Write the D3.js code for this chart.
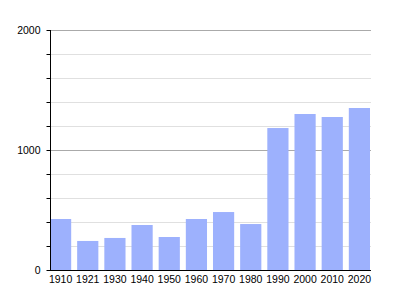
<!DOCTYPE html>
<html>
<head>
<meta charset="utf-8">
<script src="https://cdn.jsdelivr.net/npm/d3@7"></script>
<style>
    body { margin: 0; background: #fff; }
    text { font-family: "Liberation Sans", Arial, sans-serif; font-size: 10.5px; fill: #000; }
</style>
</head>
<body>
<svg id="chart"></svg>
<script>
const years = ['1910', '1921', '1930', '1940', '1950', '1960', '1970', '1980', '1990', '2000', '2010', '2020'];
const population = [425, 242, 267, 375, 275, 425, 483, 383, 1183, 1300, 1275, 1350];
const majorTicks = [0, 1000, 2000];
const minorTicks = [200, 400, 600, 800, 1200, 1400, 1600, 1800];

const width = 400, height = 300;
const margin = { top: 30, right: 29, bottom: 30, left: 50 };

const svg = d3.select('#chart')
    .attr('width', width)
    .attr('height', height);

const x = d3.scaleBand()
    .domain(years)
    .range([margin.left, width - margin.right - 1])
    .paddingInner(0.22)
    .paddingOuter(0);

const y = d3.scaleLinear()
    .domain([0, 2000])
    .range([height - margin.bottom, margin.top]);

// minor gridlines
svg.append('g')
    .selectAll('line')
    .data(minorTicks)
    .join('line')
    .attr('x1', margin.left)
    .attr('x2', width - margin.right)
    .attr('y1', d => y(d) + 0.5)
    .attr('y2', d => y(d) + 0.5)
    .attr('stroke', '#e0e0e0');

// major gridlines
svg.append('g')
    .selectAll('line')
    .data(majorTicks.slice(1))
    .join('line')
    .attr('x1', margin.left)
    .attr('x2', width - margin.right)
    .attr('y1', d => y(d) + 0.5)
    .attr('y2', d => y(d) + 0.5)
    .attr('stroke', '#aaaaaa');

// bars
svg.append('g')
    .selectAll('rect')
    .data(years)
    .join('rect')
    .attr('x', (d, i) => x(d))
    .attr('y', (d, i) => y(population[i]))
    .attr('width', x.bandwidth())
    .attr('height', (d, i) => y(0) - y(population[i]))
    .attr('fill', '#9db1fd');

// y axis
const yAxis = svg.append('g')
    .attr('transform', `translate(${margin.left + 0.5},0)`);
yAxis.append('line')
    .attr('y1', y(2000))
    .attr('y2', y(0))
    .attr('stroke', '#000');
yAxis.selectAll('.tick')
    .data(majorTicks.concat(minorTicks))
    .join('line')
    .attr('class', 'tick')
    .attr('x1', -4)
    .attr('x2', 0)
    .attr('y1', d => y(d) + 0.5)
    .attr('y2', d => y(d) + 0.5)
    .attr('stroke', '#000');
yAxis.selectAll('text')
    .data(majorTicks)
    .join('text')
    .attr('x', -10)
    .attr('y', d => y(d) + 4)
    .attr('text-anchor', 'end')
    .text(d => d);

// x axis
svg.append('line')
    .attr('x1', margin.left)
    .attr('x2', width - margin.right)
    .attr('y1', y(0) + 0.5)
    .attr('y2', y(0) + 0.5)
    .attr('stroke', '#000');
svg.append('g')
    .selectAll('text')
    .data(years)
    .join('text')
    .attr('x', d => x(d) + x.bandwidth() / 2)
    .attr('y', y(0) + 13)
    .attr('text-anchor', 'middle')
    .text(d => d);
</script>
</body>
</html>
